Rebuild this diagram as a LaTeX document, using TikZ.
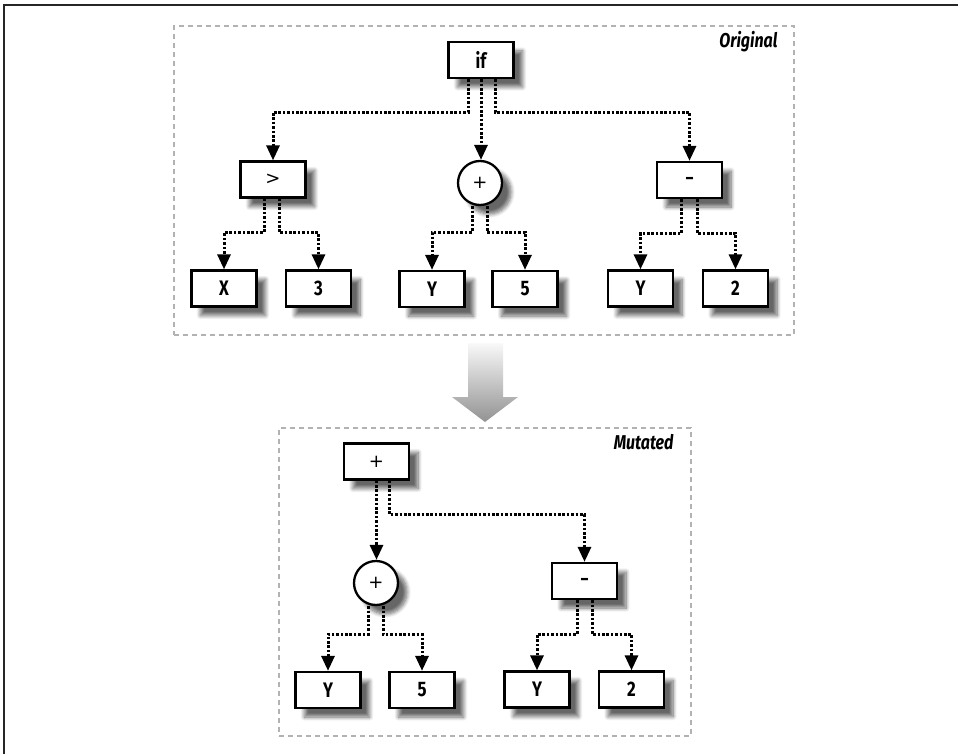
\documentclass[tikz,border=0pt]{standalone}
\usepackage{fontspec}
\setmainfont{Fira Sans}[FakeStretch=0.8]
\newfontfamily\opfont{DejaVu Sans}
\usetikzlibrary{arrows.meta,shadows.blur}

\tikzset{
  treebox/.style={draw, line width=2.3pt, fill=white, minimum width=65, minimum height=36,
    inner sep=0pt, font=\fontsize{21}{24}\selectfont\bfseries,
    blur shadow={shadow xshift=9pt, shadow yshift=-9pt, shadow blur radius=4pt,
      shadow blur steps=8, shadow opacity=60}},
  opbox/.style={treebox, font=\fontsize{18}{20}\opfont},
  opcircle/.style={opbox, circle, minimum size=44},
  link/.style={line width=3pt, dash pattern=on 2.6pt off 1.8pt,
    -{Triangle[length=15pt,width=13pt]}},
  frame/.style={draw=gray!60, line width=1.2pt, dash pattern=on 5pt off 4pt},
  framelabel/.style={anchor=base east, font=\fontsize{20}{22}\selectfont\bfseries\itshape},
}

\begin{document}
\begin{tikzpicture}[x=1pt, y=-1pt]
    \useasboundingbox (0,0) rectangle (958,754);
    % Bingkai luar
    \draw[line width=1.3pt, black!85] (958,5) -- (4,5) -- (4,754);

    % Kotak Original dan Mutated
    \node[frame, minimum width=620, minimum height=309] (orig) at (484,180.5) {};
    \node[frame, minimum width=412, minimum height=308] (mut) at (485,582) {};
    \node[framelabel] (origlbl) at (781,48) {Original};
    \node[framelabel] (mutlbl) at (677,449) {Mutated};

    % Panah besar
    \shade[top color=gray!5, bottom color=gray!85]
        (468,343) -- (503,343) -- (503,397) -- (518,397) -- (485,422)
        -- (452,397) -- (468,397) -- cycle;

    % Pohon asli
    \node[treebox] (if) at (481,60) {if};
    \node[opbox] (gtA) at (273,179.5) {>};
    \node[opcircle] (plusA) at (480,183) {+};
    \node[opbox] (minusA) at (689.5,180) {\bfseries –};
    \node[treebox] (xA) at (224,288.5) {X};
    \node[treebox] (threeA) at (318.5,288.5) {3};
    \node[treebox] (yA) at (432,289) {Y};
    \node[treebox] (fiveA) at (525,289) {5};
    \node[treebox] (yB) at (640.5,288.5) {Y};
    \node[treebox] (twoB) at (735.5,288.5) {2};

    \draw[link] ([xshift=-13]if.south) -- ++(0,33) -| (gtA.north);
    \draw[link] (if.south) -- (if.south |- plusA.north);
    \draw[link] ([xshift=14]if.south) -- ++(0,33) -| (minusA.north);
    \draw[link] ([xshift=-9]gtA.south) -- ++(0,34) -| (xA.north);
    \draw[link] ([xshift=6]gtA.south) -- ++(0,34) -| (threeA.north);
    \draw[link] ([xshift=-8]plusA.south) -- ++(0,26) -| (yA.north);
    \draw[link] ([xshift=7]plusA.south) -- ++(0,26) -| (fiveA.north);
    \draw[link] ([xshift=-8]minusA.south) -- ++(0,34) -| (yB.north);
    \draw[link] ([xshift=7.5]minusA.south) -- ++(0,34) -| (twoB.north);

    % Pohon hasil mutasi
    \node[opbox] (plusB) at (376.5,461.5) {+};
    \node[opcircle] (plusC) at (376,583) {+};
    \node[opbox] (minusB) at (584.5,581) {\bfseries –};
    \node[treebox] (yC) at (328,690) {Y};
    \node[treebox] (fiveC) at (422,690) {5};
    \node[treebox] (yD) at (537,689.5) {Y};
    \node[treebox] (twoD) at (631.5,689.5) {2};

    \draw[link] (plusB.south) -- (plusB.south |- plusC.north);
    \draw[link] ([xshift=13]plusB.south) -- ++(0,34) -| (minusB.north);
    \draw[link] ([xshift=-8]plusC.south) -- ++(0,28) -| (yC.north);
    \draw[link] ([xshift=7]plusC.south) -- ++(0,28) -| (fiveC.north);
    \draw[link] ([xshift=-7.5]minusB.south) -- ++(0,34) -| (yD.north);
    \draw[link] ([xshift=7.5]minusB.south) -- ++(0,34) -| (twoD.north);
\end{tikzpicture}
\end{document}
